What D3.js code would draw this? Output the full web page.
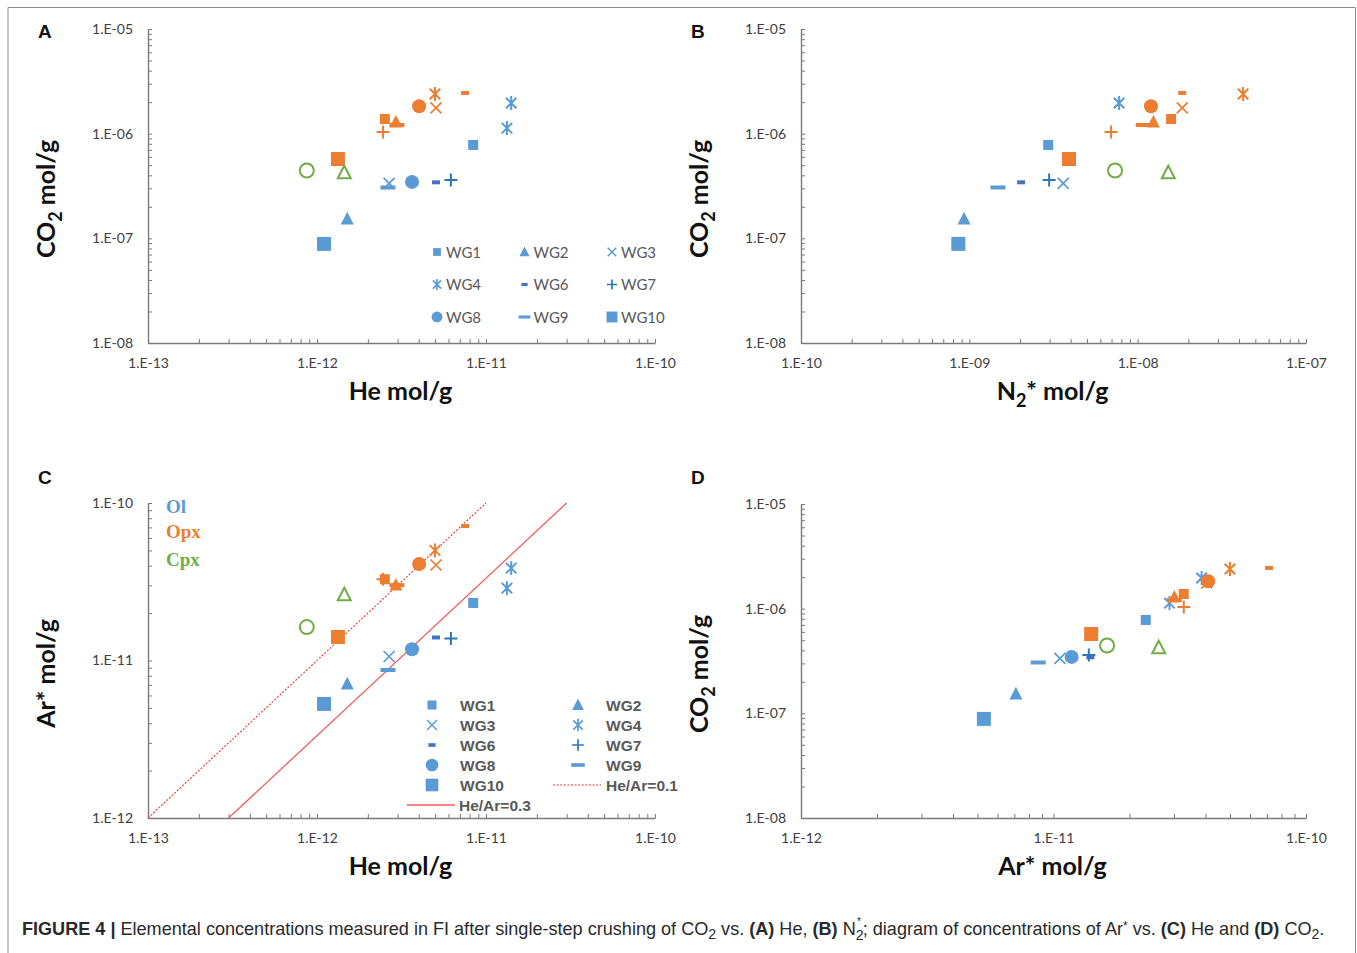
<!DOCTYPE html>
<html>
<head>
<meta charset="utf-8">
<script src="https://cdn.jsdelivr.net/npm/d3@7"></script>
<style>
  body { margin: 0; background: #fff; }
  svg { display: block; }
</style>
</head>
<body>
<svg id="fig" width="1357" height="953"></svg>
<script>
// ---- Measured fluid-inclusion data (mol/g), one entry per sample / mineral ----
const sampleIds = ["WG1", "WG2", "WG3", "WG4", "WG4", "WG6", "WG7", "WG8", "WG9", "WG10",
                   "WG1", "WG2", "WG3", "WG4", "WG6", "WG7", "WG8", "WG9", "WG10",
                   "WG2", "WG8"];
const minerals  = ["Ol", "Ol", "Ol", "Ol", "Ol", "Ol", "Ol", "Ol", "Ol", "Ol",
                   "Opx", "Opx", "Opx", "Opx", "Opx", "Opx", "Opx", "Opx", "Opx",
                   "Cpx", "Cpx"];
const heMolG  = [8.4e-12, 1.51e-12, 2.67e-12, 1.41e-11, 1.33e-11, 5.06e-12, 6.2e-12, 3.65e-12, 2.63e-12, 1.10e-12,
                 2.52e-12, 2.93e-12, 5.06e-12, 4.99e-12, 7.52e-12, 2.46e-12, 4.02e-12, 2.97e-12, 1.33e-12,
                 1.45e-12, 8.7e-13];
const n2MolG  = [2.94e-9, 9.3e-10, 3.61e-9, 7.76e-9, null, 2.03e-9, 2.98e-9, null, 1.48e-9, 8.6e-10,
                 1.58e-8, 1.24e-8, 1.84e-8, 4.23e-8, 1.84e-8, 6.95e-9, 1.20e-8, 1.08e-8, 3.91e-9,
                 1.52e-8, 7.34e-9];
const arMolG  = [2.32e-11, 7.1e-12, 1.06e-11, 3.86e-11, 2.88e-11, 1.40e-11, 1.38e-11, 1.18e-11, 8.7e-12, 5.3e-12,
                 3.28e-11, 3.01e-11, 4.04e-11, 5.0e-11, 7.14e-11, 3.28e-11, 4.10e-11, 3.01e-11, 1.41e-11,
                 2.61e-11, 1.63e-11];
const co2MolG = [7.8e-7, 1.53e-7, 3.35e-7, 1.96e-6, 1.13e-6, 3.43e-7, 3.61e-7, 3.46e-7, 3.06e-7, 8.85e-8,
                 1.38e-6, 1.29e-6, 1.76e-6, 2.39e-6, 2.45e-6, 1.04e-6, 1.83e-6, 1.21e-6, 5.73e-7,
                 4.22e-7, 4.45e-7];

// Legend entries and mineral labels
const legendGroups = ["WG1", "WG2", "WG3", "WG4", "WG6", "WG7", "WG8", "WG9", "WG10"];
const mineralNames = ["Ol", "Opx", "Cpx"];
// Reference He/Ar ratio lines for panel C
const heArRatios = [0.1, 0.3];
const heArLabels = ["He/Ar=0.1", "He/Ar=0.3"];

// Decade tick values per axis
const heTicks  = [1e-13, 1e-12, 1e-11, 1e-10];
const n2Ticks  = [1e-10, 1e-9, 1e-8, 1e-7];
const arTicksY = [1e-12, 1e-11, 1e-10];
const arTicksX = [1e-12, 1e-11, 1e-10];
const co2Ticks = [1e-8, 1e-7, 1e-6, 1e-5];

const records = sampleIds.map((id, i) => ({
  id, mineral: minerals[i], he: heMolG[i], n2: n2MolG[i], ar: arMolG[i], co2: co2MolG[i]
}));

// ---- Styling ----
const mineralColor = { Ol: "#5B9BD5", Opx: "#ED7D31", Cpx: "#70AD47" };
const olVariant = { WG6: "#4472C4", WG7: "#2E75B6" };
const markerStyle = {
  WG1:  { shape: "square",   size: 10 },
  WG2:  { shape: "triangle", size: 13 },
  WG3:  { shape: "cross",    size: 11, sw: 1.7 },
  WG4:  { shape: "star",     size: 14, sw: 2 },
  WG6:  { shape: "dash",     w: 8,  h: 4 },
  WG7:  { shape: "plus",     size: 13, sw: 2 },
  WG8:  { shape: "circle",   size: 14 },
  WG9:  { shape: "dash",     w: 15, h: 4 },
  WG10: { shape: "square",   size: 14 }
};
const TICK_FONT = "Lato, 'Open Sans', sans-serif";
const TITLE_FONT = "Lato, 'Open Sans', sans-serif";

function markerPath(st, k) {
  k = k || 1;
  const s = (st.size || 0) * k, h = s / 2;
  switch (st.shape) {
    case "square": return `M${-h},${-h}h${s}v${s}h${-s}Z`;
    case "triangle": return `M0,${-s * 0.55}L${h},${s * 0.42}L${-h},${s * 0.42}Z`;
    case "circle": return `M${h},0A${h},${h} 0 1,1 ${-h},0A${h},${h} 0 1,1 ${h},0Z`;
    case "cross": return `M${-h},${-h}L${h},${h}M${-h},${h}L${h},${-h}`;
    case "star": {
      const d = h * 0.75;
      return `M${-d},${-d}L${d},${d}M${-d},${d}L${d},${-d}M0,${-h}L0,${h}`;
    }
    case "plus": return `M${-h},0H${h}M0,${-h}V${h}`;
    case "dash": {
      const w = st.w * k, hh = st.h * k;
      return `M${-w / 2},${-hh / 2}h${w}v${hh}h${-w}Z`;
    }
  }
}
const isStroked = st => ["cross", "star", "plus"].includes(st.shape);

function drawMarker(g, id, mineral, x, y, k) {
  const st = markerStyle[id];
  let color = mineralColor[mineral];
  if (mineral === "Ol" && olVariant[id]) color = olVariant[id];
  const p = g.append("path")
    .attr("d", markerPath(st, k))
    .attr("transform", `translate(${x},${y})`);
  if (mineral === "Cpx") {
    p.attr("fill", "none").attr("stroke", color).attr("stroke-width", 2);
  } else if (isStroked(st)) {
    p.attr("fill", "none").attr("stroke", color).attr("stroke-width", (st.sw || 1.5) * (k < 1 ? 0.85 : 1));
  } else {
    p.attr("fill", color);
  }
}

const fmtDecade = v => {
  const e = Math.round(Math.log10(v));
  const a = Math.abs(e);
  return "1.E" + (e < 0 ? "-" : "+") + (a < 10 ? "0" + a : a);
};

function minorTicks(dom) {
  const out = [];
  const lo = Math.round(Math.log10(dom[0])), hi = Math.round(Math.log10(dom[1]));
  for (let e = lo; e <= hi; e++) {
    for (let m = 1; m <= 9; m++) {
      const v = m * Math.pow(10, e);
      if (v >= dom[0] * 0.999 && v <= dom[1] * 1.001) out.push(v);
    }
  }
  return out;
}

const svg = d3.select("#fig");

// outer frame
svg.append("path")
  .attr("d", "M8,960V7.5H1355.5V960")
  .attr("fill", "none").attr("stroke", "#8c8c8c").attr("stroke-width", 1);

// ---- Panel layouts ----
const panels = [
  { letter: "A", xKey: "he", yKey: "co2", xTicks: heTicks, yTicks: co2Ticks,
    x0: 148, x1: 655, y0: 29, y1: 343, ly: 38 },
  { letter: "B", xKey: "n2", yKey: "co2", xTicks: n2Ticks, yTicks: co2Ticks,
    x0: 801, x1: 1306, y0: 29, y1: 343, ly: 38 },
  { letter: "C", xKey: "he", yKey: "ar", xTicks: heTicks, yTicks: arTicksY,
    x0: 148, x1: 655, y0: 503, y1: 818, ly: 484 },
  { letter: "D", xKey: "ar", yKey: "co2", xTicks: arTicksX, yTicks: co2Ticks,
    x0: 801, x1: 1306, y0: 504, y1: 818, ly: 484 }
];

const xTitles = {
  A: [["He mol/g"]],
  B: [["N"], ["2", "sub"], ["* mol/g"]],
  C: [["He mol/g"]],
  D: [["Ar* mol/g"]]
};
const yTitles = {
  A: [["CO"], ["2", "sub"], [" mol/g"]],
  B: [["CO"], ["2", "sub"], [" mol/g"]],
  C: [["Ar* mol/g"]],
  D: [["CO"], ["2", "sub"], [" mol/g"]]
};

function richText(sel, parts, size) {
  let shifted = 0;
  parts.forEach(([t, kind]) => {
    const ts = sel.append("tspan").text(t);
    if (kind === "sub") {
      ts.attr("dy", size * 0.28).attr("font-size", size * 0.72);
      shifted = size * 0.28;
    } else if (shifted) {
      ts.attr("dy", -shifted);
      shifted = 0;
    }
  });
}

panels.forEach(p => {
  const g = svg.append("g");
  const xDom = [p.xTicks[0], p.xTicks[p.xTicks.length - 1]];
  const yDom = [p.yTicks[0], p.yTicks[p.yTicks.length - 1]];
  const x = d3.scaleLog().domain(xDom).range([p.x0, p.x1]);
  const y = d3.scaleLog().domain(yDom).range([p.y1, p.y0]);
  const xDec = new Set(p.xTicks.map(v => fmtDecade(v)));
  const yDec = new Set(p.yTicks.map(v => fmtDecade(v)));
  const isDecade = v => Math.abs(Math.log10(v) - Math.round(Math.log10(v))) < 1e-6;

  const xAxis = d3.axisBottom(x)
    .tickValues(minorTicks(xDom))
    .tickSizeInner(-4).tickSizeOuter(0).tickPadding(15)
    .tickFormat(v => isDecade(v) && xDec.has(fmtDecade(v)) ? fmtDecade(v) : "");
  const yAxis = d3.axisLeft(y)
    .tickValues(minorTicks(yDom))
    .tickSizeInner(-4).tickSizeOuter(0).tickPadding(15)
    .tickFormat(v => isDecade(v) && yDec.has(fmtDecade(v)) ? fmtDecade(v) : "");

  const gx = g.append("g").attr("transform", `translate(0,${p.y1})`).call(xAxis);
  const gy = g.append("g").attr("transform", `translate(${p.x0},0)`).call(yAxis);
  [gx, gy].forEach(a => {
    a.select(".domain").attr("stroke", "#7a7a7a").attr("stroke-width", 1.4);
    a.selectAll(".tick line").attr("stroke", "#7a7a7a").attr("stroke-width", 1);
    a.selectAll(".tick text").attr("fill", "#404040")
      .attr("font-family", TICK_FONT).attr("font-size", 14);
  });

  // panel letter
  svg.append("text").text(p.letter)
    .attr("x", p.x0 - 110).attr("y", p.ly)
    .attr("font-family", "'Liberation Sans', Arial, sans-serif")
    .attr("font-weight", "bold").attr("font-size", 19).attr("fill", "#111");

  // axis titles
  const xt = svg.append("text")
    .attr("x", (p.x0 + p.x1) / 2 - 1).attr("y", p.y1 + 57)
    .attr("text-anchor", "middle")
    .attr("font-family", TITLE_FONT).attr("font-weight", "bold")
    .attr("font-size", 25).attr("fill", "#111");
  richText(xt, xTitles[p.letter], 25);

  const yt = svg.append("text")
    .attr("transform", `translate(${p.x0 - 93},${(p.y0 + p.y1) / 2 + 13}) rotate(-90)`)
    .attr("text-anchor", "middle")
    .attr("font-family", TITLE_FONT).attr("font-weight", "bold")
    .attr("font-size", 25).attr("fill", "#111");
  richText(yt, yTitles[p.letter], 25);

  // He/Ar reference lines
  if (p.letter === "C") {
    heArRatios.forEach((r, i) => {
      // Ar = He / r, spanning the Ar axis range
      const pts = [yDom[0], yDom[1]].map(ar => [x(ar * r), y(ar)]);
      g.append("line")
        .attr("x1", pts[0][0]).attr("y1", pts[0][1])
        .attr("x2", pts[1][0]).attr("y2", pts[1][1])
        .attr("stroke", i === 0 ? "#E53935" : "#F06060")
        .attr("stroke-width", i === 0 ? 1.1 : 1.3)
        .attr("stroke-dasharray", i === 0 ? "2,1.6" : null);
    });
  }

  // data points
  const pts = records.filter(d => d[p.xKey] != null && d[p.yKey] != null);
  const order = ["Ol", "Opx", "Cpx"];
  const mg = g.append("g");
  order.forEach(m => {
    pts.filter(d => d.mineral === m).forEach(d => {
      drawMarker(mg, d.id, d.mineral, x(d[p.xKey]), y(d[p.yKey]), 1);
    });
  });
});

// ---- Legend, panel A ----
const legA = svg.append("g");
legendGroups.forEach((id, i) => {
  const col = i % 3, row = Math.floor(i / 3);
  const mx = 437 + col * 87.5, my = 252 + row * 32.5;
  drawMarker(legA, id, "Ol", mx, my, 0.78);
  legA.append("text").text(id)
    .attr("x", mx + 9).attr("y", my + 5.5)
    .attr("font-family", TICK_FONT).attr("font-size", 15).attr("fill", "#595959");
});

// ---- Legend, panel C ----
const legC = svg.append("g");
const legCItems = legendGroups.map(id => ({ type: "marker", id }))
  .concat([{ type: "line", i: 0 }, { type: "line", i: 1 }]);
legCItems.forEach((it, i) => {
  let col = i % 2, row = Math.floor(i / 2);
  let mx = 432 + col * 146, my = 705 + row * 20;
  let tx = mx + 28;
  if (it.type === "marker") {
    drawMarker(legC, it.id, "Ol", mx, my, 0.9);
  } else {
    if (it.i === 1) { col = 0; mx = 432; tx = 459; }
    legC.append("line")
      .attr("x1", mx - 25).attr("x2", mx + 23).attr("y1", my).attr("y2", my)
      .attr("stroke", it.i === 0 ? "#E53935" : "#F06060")
      .attr("stroke-width", it.i === 0 ? 1.1 : 1.6)
      .attr("stroke-dasharray", it.i === 0 ? "2,1.6" : null);
  }
  legC.append("text").text(it.type === "marker" ? it.id : heArLabels[it.i])
    .attr("x", tx).attr("y", my + 5.5)
    .attr("font-family", "'Liberation Sans', Arial, sans-serif")
    .attr("font-weight", "bold").attr("font-size", 15.5).attr("fill", "#595959");
});

// mineral labels, panel C
mineralNames.forEach((m, i) => {
  svg.append("text").text(m)
    .attr("x", 166).attr("y", [513, 538, 566][i])
    .attr("font-family", "'Liberation Serif', 'Times New Roman', serif")
    .attr("font-weight", "bold").attr("font-size", 19)
    .attr("fill", mineralColor[m]);
});

// ---- Caption ----
const cap = svg.append("text")
  .attr("font-family", "'Liberation Sans Narrow', 'Liberation Sans', Arial, sans-serif")
  .attr("font-size", 18).attr("fill", "#2a2a2a");
const capParts = [
  ["FIGURE 4 | ", "b"],
  ["Elemental concentrations measured in FI after single-step crushing of CO"],
  ["2", "sub"],
  [" vs. "], ["(A)", "b"], [" He, "], ["(B)", "b"], [" N"],
  ["2", "subsup"],
  ["; diagram of concentrations of Ar"], ["*", "sup"],
  [" vs. "], ["(C)", "b"], [" He and "], ["(D)", "b"], [" CO"],
  ["2", "sub"], ["."]
];
let shift = 0;
capParts.forEach(([t, k]) => {
  if (k === "sub") {
    cap.append("tspan").text(t).attr("dy", 4 - shift).attr("font-size", 14);
    shift = 4;
  } else if (k === "subsup") {
    cap.append("tspan").text(t).attr("dy", 5 - shift).attr("font-size", 14);
    cap.append("tspan").text("*").attr("dx", -6.5).attr("dy", -15).attr("font-size", 10);
    cap.append("tspan").text("\u200A").attr("dx", 1).attr("font-size", 10);
    shift = -10;
  } else if (k === "sup") {
    cap.append("tspan").text(t).attr("dy", -5 - shift).attr("font-size", 12);
    shift = -5;
  } else {
    const ts = cap.append("tspan").text(t).attr("dy", -shift);
    if (k === "b") ts.attr("font-weight", "bold");
    shift = 0;
  }
});
const capW = cap.node().getComputedTextLength();
cap.attr("transform", `translate(22,935) scale(${(1331 - 22) / capW},1)`);
</script>
</body>
</html>
